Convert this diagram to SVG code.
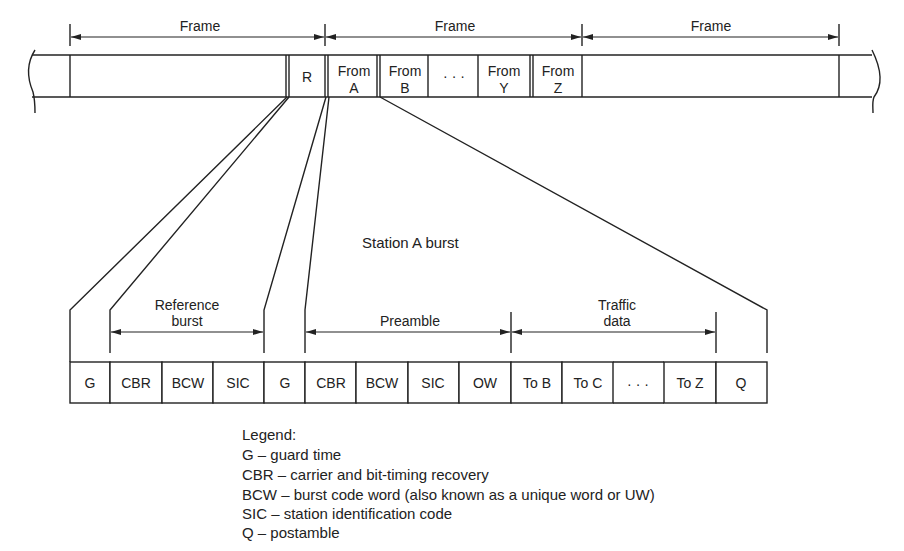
<svg xmlns="http://www.w3.org/2000/svg" width="904" height="551" viewBox="0 0 904 551">
<defs>
<marker id="ah" viewBox="0 0 10 6" refX="10" refY="3" markerWidth="10" markerHeight="6" markerUnits="userSpaceOnUse" orient="auto-start-reverse">
<path d="M0,0 L10,3 L0,6 z" fill="#222"/>
</marker>
<style>
.ln{stroke:#222;stroke-width:1.4;fill:none}
.bx{stroke:#222;stroke-width:1.4;fill:#fff}
.dim{stroke:#222;stroke-width:1.1;fill:none;marker-start:url(#ah);marker-end:url(#ah)}
.t{font-family:"Liberation Sans",Arial,sans-serif;font-size:14px;fill:#222;text-anchor:middle}
.lg{font-family:"Liberation Sans",Arial,sans-serif;font-size:15px;fill:#222}
</style>
</defs>
<rect width="904" height="551" fill="#fff"/>

<g id="frame-strip">
<line class="ln" x1="32" y1="55" x2="872" y2="55"/>
<line class="ln" x1="32" y1="97" x2="872" y2="97"/>
<path class="ln" d="M35,50 C26,64 28,80 33,92 C35,100 35,106 35,113"/>
<path class="ln" d="M872,50 C880,66 884,84 874,97 C872,102 873,107 873,113"/>
<line class="ln" x1="70" y1="55" x2="70" y2="97"/>
<line class="ln" x1="839" y1="55" x2="839" y2="97"/>
</g>

<g id="slot-R">
<line class="ln" x1="286" y1="55" x2="286" y2="97"/>
<line class="ln" x1="289" y1="55" x2="289" y2="97"/>
<text class="t" x="307" y="82">R</text>
</g>
<g id="slot-A">
<line class="ln" x1="325" y1="55" x2="325" y2="97"/>
<line class="ln" x1="328" y1="55" x2="328" y2="97"/>
<text class="t" x="354" y="76">From</text>
<text class="t" x="354" y="93">A</text>
</g>
<g id="slot-B">
<line class="ln" x1="377" y1="55" x2="377" y2="97"/>
<line class="ln" x1="380" y1="55" x2="380" y2="97"/>
<line class="ln" x1="428" y1="55" x2="428" y2="97"/>
<text class="t" x="405" y="76">From</text>
<text class="t" x="405" y="93">B</text>
</g>
<g id="top-dots">
<text class="t" x="454" y="81">· · ·</text>
</g>
<g id="slot-Y">
<line class="ln" x1="478" y1="55" x2="478" y2="97"/>
<line class="ln" x1="530" y1="55" x2="530" y2="97"/>
<line class="ln" x1="533" y1="55" x2="533" y2="97"/>
<text class="t" x="504" y="76">From</text>
<text class="t" x="504" y="93">Y</text>
</g>
<g id="slot-Z">
<line class="ln" x1="582" y1="55" x2="582" y2="97"/>
<text class="t" x="558" y="76">From</text>
<text class="t" x="558" y="93">Z</text>
</g>

<g id="frame-dims">
<line class="ln" x1="70" y1="24" x2="70" y2="46"/>
<line class="ln" x1="325" y1="24" x2="325" y2="46"/>
<line class="ln" x1="582" y1="24" x2="582" y2="46"/>
<line class="ln" x1="839" y1="24" x2="839" y2="46"/>
<line class="dim" x1="71" y1="37" x2="324" y2="37"/>
<line class="dim" x1="326" y1="37" x2="581" y2="37"/>
<line class="dim" x1="583" y1="37" x2="838" y2="37"/>
<text class="t" x="200" y="31">Frame</text>
<text class="t" x="455" y="31">Frame</text>
<text class="t" x="711" y="31">Frame</text>
</g>

<g id="connectors">
<polyline class="ln" points="287,97 70,310 70,362"/>
<polyline class="ln" points="289,97 110,310 110,353"/>
<polyline class="ln" points="326,97 264,310 264,353"/>
<polyline class="ln" points="329,97 305,310 305,353"/>
<polyline class="ln" points="380,97 767,310 767,353"/>
<line class="ln" x1="511" y1="312" x2="511" y2="353"/>
<line class="ln" x1="716" y1="312" x2="716" y2="353"/>
</g>

<g id="label-station">
<text class="lg" x="362" y="248">Station A burst</text>
</g>

<g id="burst-dims">
<line class="dim" x1="111" y1="332" x2="263" y2="332"/>
<line class="dim" x1="306" y1="332" x2="510" y2="332"/>
<line class="dim" x1="512" y1="332" x2="715" y2="332"/>
<text class="t" x="187" y="310">Reference</text>
<text class="t" x="187" y="326">burst</text>
<text class="t" x="410" y="326">Preamble</text>
<text class="t" x="617" y="310">Traffic</text>
<text class="t" x="617" y="326">data</text>
</g>

<g id="burst-boxes">
<g id="b-G1"><rect class="bx" x="70" y="362" width="40" height="41"/><text class="t" x="90" y="388">G</text></g>
<g id="b-CBR1"><rect class="bx" x="110" y="362" width="52" height="41"/><text class="t" x="136" y="388">CBR</text></g>
<g id="b-BCW1"><rect class="bx" x="162" y="362" width="51" height="41"/><text class="t" x="188" y="388">BCW</text></g>
<g id="b-SIC1"><rect class="bx" x="213" y="362" width="51" height="41"/><text class="t" x="238" y="388">SIC</text></g>
<g id="b-G2"><rect class="bx" x="264" y="362" width="41" height="41"/><text class="t" x="285" y="388">G</text></g>
<g id="b-CBR2"><rect class="bx" x="305" y="362" width="51" height="41"/><text class="t" x="331" y="388">CBR</text></g>
<g id="b-BCW2"><rect class="bx" x="356" y="362" width="52" height="41"/><text class="t" x="382" y="388">BCW</text></g>
<g id="b-SIC2"><rect class="bx" x="408" y="362" width="51" height="41"/><text class="t" x="433" y="388">SIC</text></g>
<g id="b-OW"><rect class="bx" x="459" y="362" width="52" height="41"/><text class="t" x="485" y="388">OW</text></g>
<g id="b-ToB"><rect class="bx" x="511" y="362" width="51" height="41"/><text class="t" x="537" y="388">To B</text></g>
<g id="b-ToC"><rect class="bx" x="562" y="362" width="51" height="41"/><text class="t" x="588" y="388">To C</text></g>
<g id="b-dots"><line class="ln" x1="613" y1="362" x2="664" y2="362"/><line class="ln" x1="613" y1="403" x2="664" y2="403"/><text class="t" x="638" y="389">· · ·</text></g>
<g id="b-ToZ"><rect class="bx" x="664" y="362" width="52" height="41"/><text class="t" x="690" y="388">To Z</text></g>
<g id="b-Q"><rect class="bx" x="716" y="362" width="51" height="41"/><text class="t" x="741" y="388">Q</text></g>
</g>

<g id="legend">
<text class="lg" x="242" y="440">Legend:</text>
<text class="lg" x="242" y="460">G – guard time</text>
<text class="lg" x="242" y="480">CBR – carrier and bit-timing recovery</text>
<text class="lg" x="242" y="500">BCW – burst code word (also known as a unique word or UW)</text>
<text class="lg" x="242" y="519">SIC – station identification code</text>
<text class="lg" x="242" y="538">Q – postamble</text>
</g>
</svg>
